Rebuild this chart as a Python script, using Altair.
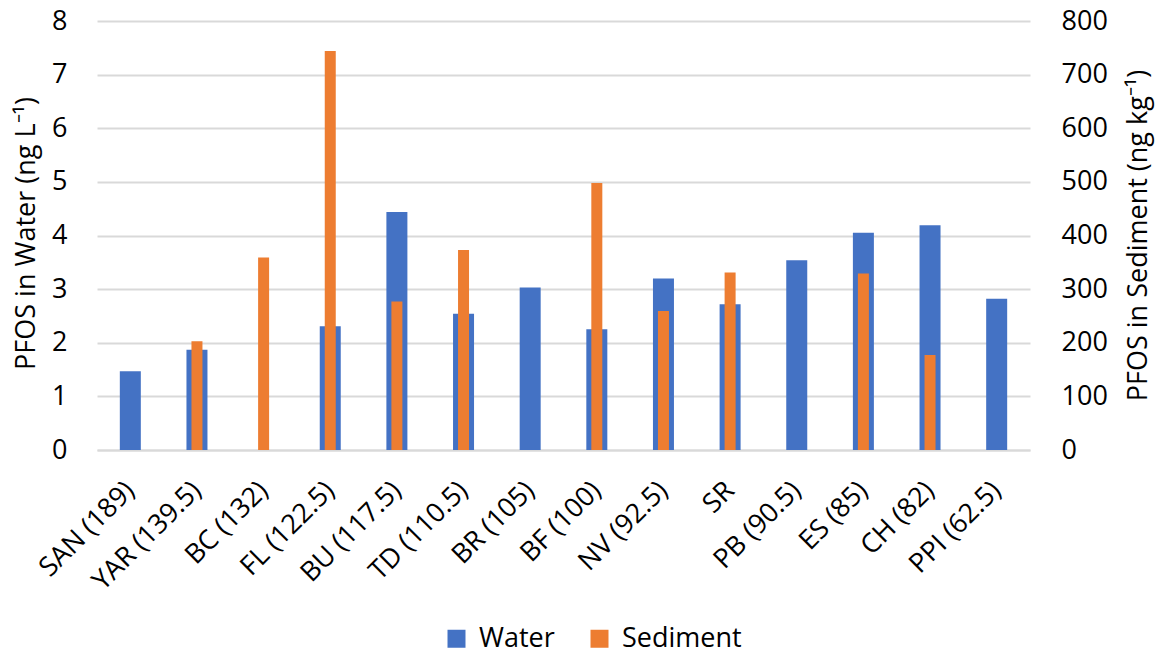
import altair as alt
import pandas as pd

# Sampling sites (distance in parentheses) and PFOS concentrations
sites = [
    "SAN (189)", "YAR (139.5)", "BC (132)", "FL (122.5)", "BU (117.5)",
    "TD (110.5)", "BR (105)", "BF (100)", "NV (92.5)", "SR",
    "PB (90.5)", "ES (85)", "CH (82)", "PPI (62.5)",
]
water = [1.47, 1.87, None, 2.31, 4.44, 2.54, 3.03, 2.25, 3.20, 2.72, 3.54, 4.05, 4.19, 2.82]
sediment = [None, 203, 359, 744, 277, 373, None, 498, 259, 331, None, 329, 177, None]

df = pd.DataFrame({"site": sites, "water": water, "sediment": sediment})

FONT = "Open Sans"
FS = 27
BLUE = "#4472C4"
ORANGE = "#ED7D31"
GRID = "#D9D9D9"

x_enc = alt.X(
    "site:N",
    sort=sites,
    scale=alt.Scale(paddingInner=0, paddingOuter=0),
    axis=alt.Axis(
        title=None,
        labelAngle=-45,
        labelAlign="right",
        labelBaseline="middle",
        labelFontSize=FS,
        labelFont=FONT,
        labelColor="#000000",
        labelPadding=36,
        ticks=False,
        domain=True,
        domainColor=GRID,
        domainWidth=2,
        labelOverlap=False,
        labelLimit=300,
    ),
)

color_scale = alt.Scale(domain=["Water", "Sediment"], range=[BLUE, ORANGE])

water_bars = (
    alt.Chart(df)
    .transform_filter("isValid(datum.water)")
    .transform_calculate(series="'Water'")
    .mark_bar(size=21)
    .encode(
        x=x_enc,
        y=alt.Y(
            "water:Q",
            scale=alt.Scale(domain=[0, 8], nice=False),
            axis=alt.Axis(
                orient="left",
                values=[0, 1, 2, 3, 4, 5, 6, 7, 8],
                title="PFOS in Water (ng L⁻¹)",
                titleFont=FONT,
                titleFontSize=FS,
                titleFontWeight="normal",
                titleColor="#000000",
                titleAngle=270,
                titleAlign="center",
                titleBaseline="middle",
                titleX=-71,
                titleY=212,
                labelFont=FONT,
                labelFontSize=FS,
                labelColor="#000000",
                labelPadding=30,
                ticks=False,
                domain=False,
                grid=True,
                gridColor=GRID,
                gridWidth=2,
            ),
        ),
        color=alt.Color(
            "series:N",
            scale=color_scale,
            legend=alt.Legend(
                title=None,
                orient="none",
                legendX=346,
                legendY=604,
                direction="horizontal",
                symbolType="square",
                symbolSize=324,
                symbolStrokeWidth=0,
                labelFont=FONT,
                labelFontSize=FS,
                labelColor="#000000",
                labelOffset=9,
                columnPadding=31,
                padding=0,
            ),
        ),
    )
)

sediment_bars = (
    alt.Chart(df)
    .transform_filter("isValid(datum.sediment)")
    .transform_calculate(series="'Sediment'")
    .mark_bar(size=11)
    .encode(
        x=x_enc,
        y=alt.Y(
            "sediment:Q",
            scale=alt.Scale(domain=[0, 800], nice=False),
            axis=alt.Axis(
                orient="right",
                values=[0, 100, 200, 300, 400, 500, 600, 700, 800],
                title="PFOS in Sediment (ng kg⁻¹)",
                titleAngle=270,
                titleAlign="center",
                titleBaseline="middle",
                titleX=108,
                titleY=214,
                titleFont=FONT,
                titleFontSize=FS,
                titleFontWeight="normal",
                titleColor="#000000",
                labelFont=FONT,
                labelFontSize=FS,
                labelColor="#000000",
                labelPadding=31,
                ticks=False,
                domain=False,
                grid=False,
            ),
        ),
        color=alt.Color("series:N", scale=color_scale),
    )
)

chart = (
    alt.layer(water_bars, sediment_bars)
    .resolve_scale(y="independent")
    .properties(
        width=933,
        height=429,
        autosize=alt.AutoSizeParams(type="none"),
        padding={"left": 97, "top": 21, "right": 128, "bottom": 204},
        background="#FFFFFF",
    )
    .configure_view(stroke=None)
)

chart.save("out.html", embed_options={"renderer": "svg", "actions": False})
